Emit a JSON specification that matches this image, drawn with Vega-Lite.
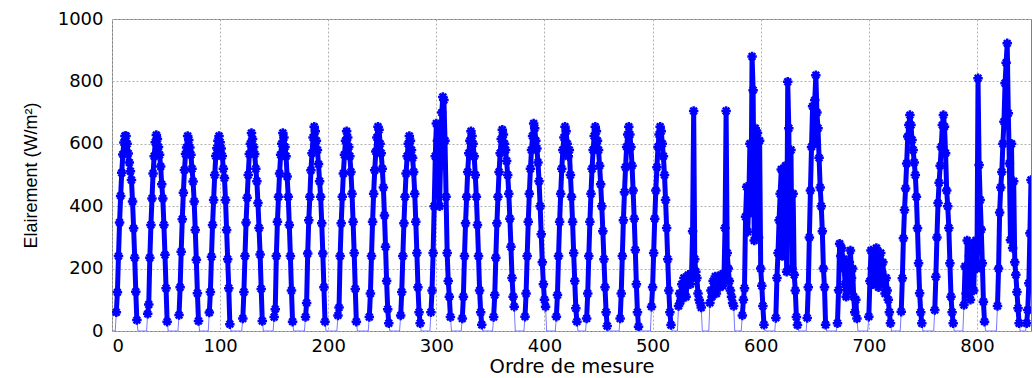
{
"$schema":"https://vega.github.io/schema/vega-lite/v6.json",
"width":919,"height":312,
"autosize":{"type":"none"},
"padding":{"left":112,"top":19,"right":2,"bottom":47},
"background":"white",
"config":{
"view":{"stroke":"#808080","strokeWidth":1},
"axis":{"domain":false,"ticks":false,"grid":true,"gridColor":"#b0b0b0","gridDash":[2,2],"gridWidth":1,
"labelFont":"DejaVu Sans","labelFontSize":18,"labelColor":"#000000","titleColor":"#000000","titleFontWeight":"normal"}
},
"data":{"values":[
{"x":1,"y":0,"d":0},{"x":3,"y":0,"d":0},{"x":24,"y":0,"d":0},{"x":32,"y":0,"d":0},{"x":52,"y":0,"d":0},{"x":61,"y":0,"d":0},{"x":81,"y":0,"d":0},{"x":89,"y":0,"d":0},{"x":110,"y":0,"d":0},{"x":120,"y":0,"d":0},{"x":140,"y":0,"d":0},{"x":149,"y":0,"d":0},{"x":168,"y":0,"d":0},{"x":178,"y":0,"d":0},{"x":198,"y":0,"d":0},{"x":208,"y":0,"d":0},{"x":227,"y":0,"d":0},{"x":237,"y":0,"d":0},{"x":257,"y":0,"d":0},{"x":266,"y":0,"d":0},{"x":286,"y":0,"d":0},{"x":294,"y":0,"d":0},{"x":314,"y":0,"d":0},{"x":323,"y":0,"d":0},{"x":343,"y":0,"d":0},{"x":352,"y":0,"d":0},{"x":373,"y":0,"d":0},{"x":381,"y":0,"d":0},{"x":402,"y":0,"d":0},{"x":410,"y":0,"d":0},{"x":431,"y":0,"d":0},{"x":438,"y":0,"d":0},{"x":459,"y":0,"d":0},{"x":469,"y":0,"d":0},{"x":488,"y":0,"d":0},{"x":498,"y":0,"d":0},{"x":518,"y":0,"d":0},{"x":523,"y":0,"d":0},{"x":546,"y":0,"d":0},{"x":552,"y":0,"d":0},{"x":576,"y":0,"d":0},{"x":582,"y":0,"d":0},{"x":604,"y":0,"d":0},{"x":613,"y":0,"d":0},{"x":635,"y":0,"d":0},{"x":642,"y":0,"d":0},{"x":661,"y":0,"d":0},{"x":670,"y":0,"d":0},{"x":690,"y":0,"d":0},{"x":699,"y":0,"d":0},{"x":721,"y":0,"d":0},{"x":729,"y":0,"d":0},{"x":750,"y":0,"d":0},{"x":760,"y":0,"d":0},{"x":779,"y":0,"d":0},{"x":787,"y":0,"d":0},{"x":808,"y":0,"d":0},{"x":818,"y":0,"d":0},{"x":840,"y":0,"d":0},{"x":845,"y":0,"d":0},
{"x":4,"y":60,"d":1},{"x":5,"y":124,"d":1},{"x":6,"y":240,"d":1},{"x":7,"y":348,"d":1},{"x":8,"y":433,"d":1},{"x":9,"y":507,"d":1},{"x":10,"y":566,"d":1},{"x":11,"y":604,"d":1},{"x":12,"y":625,"d":1},{"x":13,"y":625,"d":1},{"x":14,"y":600,"d":1},{"x":15,"y":569,"d":1},{"x":16,"y":540,"d":1},{"x":17,"y":512,"d":1},{"x":18,"y":484,"d":1},{"x":19,"y":415,"d":1},{"x":20,"y":329,"d":1},{"x":21,"y":235,"d":1},{"x":22,"y":126,"d":1},{"x":23,"y":35,"d":1},
{"x":33,"y":55,"d":2},{"x":34,"y":85,"d":2},{"x":35,"y":235,"d":2},{"x":36,"y":340,"d":2},{"x":37,"y":425,"d":2},{"x":38,"y":505,"d":2},{"x":39,"y":560,"d":2},{"x":40,"y":605,"d":2},{"x":41,"y":628,"d":2},{"x":42,"y":615,"d":2},{"x":43,"y":590,"d":2},{"x":44,"y":565,"d":2},{"x":45,"y":527,"d":2},{"x":46,"y":470,"d":2},{"x":47,"y":425,"d":2},{"x":48,"y":340,"d":2},{"x":49,"y":244,"d":2},{"x":50,"y":137,"d":2},{"x":51,"y":30,"d":2},
{"x":62,"y":51,"d":3},{"x":63,"y":140,"d":3},{"x":64,"y":254,"d":3},{"x":65,"y":358,"d":3},{"x":66,"y":443,"d":3},{"x":67,"y":516,"d":3},{"x":68,"y":567,"d":3},{"x":69,"y":588,"d":3},{"x":70,"y":625,"d":3},{"x":71,"y":612,"d":3},{"x":72,"y":588,"d":3},{"x":73,"y":565,"d":3},{"x":74,"y":520,"d":3},{"x":75,"y":479,"d":3},{"x":76,"y":415,"d":3},{"x":77,"y":324,"d":3},{"x":78,"y":228,"d":3},{"x":79,"y":121,"d":3},{"x":80,"y":32,"d":3},
{"x":90,"y":59,"d":4},{"x":91,"y":125,"d":4},{"x":92,"y":238,"d":4},{"x":93,"y":340,"d":4},{"x":94,"y":420,"d":4},{"x":95,"y":500,"d":4},{"x":96,"y":561,"d":4},{"x":97,"y":586,"d":4},{"x":98,"y":610,"d":4},{"x":99,"y":625,"d":4},{"x":100,"y":605,"d":4},{"x":101,"y":585,"d":4},{"x":102,"y":561,"d":4},{"x":103,"y":520,"d":4},{"x":104,"y":490,"d":4},{"x":105,"y":420,"d":4},{"x":106,"y":324,"d":4},{"x":107,"y":230,"d":4},{"x":108,"y":137,"d":4},{"x":109,"y":22,"d":4},
{"x":121,"y":40,"d":5},{"x":122,"y":125,"d":5},{"x":123,"y":240,"d":5},{"x":124,"y":348,"d":5},{"x":125,"y":427,"d":5},{"x":126,"y":500,"d":5},{"x":127,"y":567,"d":5},{"x":128,"y":600,"d":5},{"x":129,"y":635,"d":5},{"x":130,"y":615,"d":5},{"x":131,"y":590,"d":5},{"x":132,"y":567,"d":5},{"x":133,"y":520,"d":5},{"x":134,"y":480,"d":5},{"x":135,"y":410,"d":5},{"x":136,"y":330,"d":5},{"x":137,"y":245,"d":5},{"x":138,"y":135,"d":5},{"x":139,"y":32,"d":5},
{"x":150,"y":45,"d":6},{"x":151,"y":70,"d":6},{"x":152,"y":240,"d":6},{"x":153,"y":350,"d":6},{"x":154,"y":430,"d":6},{"x":155,"y":505,"d":6},{"x":156,"y":565,"d":6},{"x":157,"y":600,"d":6},{"x":158,"y":635,"d":6},{"x":159,"y":620,"d":6},{"x":160,"y":590,"d":6},{"x":161,"y":560,"d":6},{"x":162,"y":495,"d":6},{"x":163,"y":430,"d":6},{"x":164,"y":340,"d":6},{"x":165,"y":240,"d":6},{"x":166,"y":130,"d":6},{"x":167,"y":30,"d":6},
{"x":179,"y":45,"d":7},{"x":180,"y":90,"d":7},{"x":181,"y":248,"d":7},{"x":182,"y":355,"d":7},{"x":183,"y":430,"d":7},{"x":184,"y":515,"d":7},{"x":185,"y":570,"d":7},{"x":186,"y":620,"d":7},{"x":187,"y":655,"d":7},{"x":188,"y":640,"d":7},{"x":189,"y":610,"d":7},{"x":190,"y":580,"d":7},{"x":191,"y":535,"d":7},{"x":192,"y":480,"d":7},{"x":193,"y":430,"d":7},{"x":194,"y":345,"d":7},{"x":195,"y":248,"d":7},{"x":196,"y":140,"d":7},{"x":197,"y":30,"d":7},
{"x":209,"y":50,"d":8},{"x":210,"y":75,"d":8},{"x":211,"y":240,"d":8},{"x":212,"y":345,"d":8},{"x":213,"y":430,"d":8},{"x":214,"y":505,"d":8},{"x":215,"y":565,"d":8},{"x":216,"y":610,"d":8},{"x":217,"y":640,"d":8},{"x":218,"y":620,"d":8},{"x":219,"y":590,"d":8},{"x":220,"y":560,"d":8},{"x":221,"y":510,"d":8},{"x":222,"y":440,"d":8},{"x":223,"y":350,"d":8},{"x":224,"y":250,"d":8},{"x":225,"y":135,"d":8},{"x":226,"y":30,"d":8},
{"x":238,"y":45,"d":9},{"x":239,"y":120,"d":9},{"x":240,"y":240,"d":9},{"x":241,"y":350,"d":9},{"x":242,"y":440,"d":9},{"x":243,"y":515,"d":9},{"x":244,"y":575,"d":9},{"x":245,"y":620,"d":9},{"x":246,"y":655,"d":9},{"x":247,"y":645,"d":9},{"x":248,"y":600,"d":9},{"x":249,"y":570,"d":9},{"x":250,"y":520,"d":9},{"x":251,"y":460,"d":9},{"x":252,"y":370,"d":9},{"x":253,"y":270,"d":9},{"x":254,"y":160,"d":9},{"x":255,"y":70,"d":9},{"x":256,"y":25,"d":9},
{"x":267,"y":50,"d":10},{"x":268,"y":125,"d":10},{"x":269,"y":240,"d":10},{"x":270,"y":345,"d":10},{"x":271,"y":430,"d":10},{"x":272,"y":505,"d":10},{"x":273,"y":560,"d":10},{"x":274,"y":600,"d":10},{"x":275,"y":625,"d":10},{"x":276,"y":610,"d":10},{"x":277,"y":580,"d":10},{"x":278,"y":555,"d":10},{"x":279,"y":510,"d":10},{"x":280,"y":440,"d":10},{"x":281,"y":350,"d":10},{"x":282,"y":250,"d":10},{"x":283,"y":140,"d":10},{"x":284,"y":60,"d":10},{"x":285,"y":25,"d":10},
{"x":295,"y":60,"d":11},{"x":296,"y":130,"d":11},{"x":297,"y":250,"d":11},{"x":298,"y":400,"d":11},{"x":299,"y":560,"d":11},{"x":300,"y":665,"d":11},{"x":301,"y":610,"d":11},{"x":302,"y":520,"d":11},{"x":303,"y":400,"d":11},{"x":304,"y":560,"d":11},{"x":305,"y":700,"d":11},{"x":306,"y":750,"d":11},{"x":307,"y":740,"d":11},{"x":308,"y":610,"d":11},{"x":309,"y":430,"d":11},{"x":310,"y":250,"d":11},{"x":311,"y":160,"d":11},{"x":312,"y":110,"d":11},{"x":313,"y":45,"d":11},
{"x":324,"y":40,"d":12},{"x":325,"y":110,"d":12},{"x":326,"y":240,"d":12},{"x":327,"y":345,"d":12},{"x":328,"y":430,"d":12},{"x":329,"y":510,"d":12},{"x":330,"y":570,"d":12},{"x":331,"y":610,"d":12},{"x":332,"y":640,"d":12},{"x":333,"y":625,"d":12},{"x":334,"y":600,"d":12},{"x":335,"y":560,"d":12},{"x":336,"y":500,"d":12},{"x":337,"y":430,"d":12},{"x":338,"y":340,"d":12},{"x":339,"y":240,"d":12},{"x":340,"y":130,"d":12},{"x":341,"y":60,"d":12},{"x":342,"y":20,"d":12},
{"x":353,"y":45,"d":13},{"x":354,"y":115,"d":13},{"x":355,"y":235,"d":13},{"x":356,"y":345,"d":13},{"x":357,"y":430,"d":13},{"x":358,"y":510,"d":13},{"x":359,"y":570,"d":13},{"x":360,"y":615,"d":13},{"x":361,"y":645,"d":13},{"x":362,"y":630,"d":13},{"x":363,"y":600,"d":13},{"x":364,"y":580,"d":13},{"x":365,"y":545,"d":13},{"x":366,"y":500,"d":13},{"x":367,"y":440,"d":13},{"x":368,"y":360,"d":13},{"x":369,"y":270,"d":13},{"x":370,"y":170,"d":13},{"x":371,"y":110,"d":13},{"x":372,"y":78,"d":13},
{"x":382,"y":46,"d":14},{"x":383,"y":120,"d":14},{"x":384,"y":240,"d":14},{"x":385,"y":350,"d":14},{"x":386,"y":440,"d":14},{"x":387,"y":520,"d":14},{"x":388,"y":580,"d":14},{"x":389,"y":625,"d":14},{"x":390,"y":665,"d":14},{"x":391,"y":650,"d":14},{"x":392,"y":610,"d":14},{"x":393,"y":585,"d":14},{"x":394,"y":540,"d":14},{"x":395,"y":480,"d":14},{"x":396,"y":400,"d":14},{"x":397,"y":310,"d":14},{"x":398,"y":220,"d":14},{"x":399,"y":150,"d":14},{"x":400,"y":100,"d":14},{"x":401,"y":78,"d":14},
{"x":411,"y":46,"d":15},{"x":412,"y":115,"d":15},{"x":413,"y":240,"d":15},{"x":414,"y":350,"d":15},{"x":415,"y":440,"d":15},{"x":416,"y":520,"d":15},{"x":417,"y":580,"d":15},{"x":418,"y":620,"d":15},{"x":419,"y":655,"d":15},{"x":420,"y":640,"d":15},{"x":421,"y":600,"d":15},{"x":422,"y":560,"d":15},{"x":423,"y":580,"d":15},{"x":424,"y":500,"d":15},{"x":425,"y":430,"d":15},{"x":426,"y":350,"d":15},{"x":427,"y":250,"d":15},{"x":428,"y":160,"d":15},{"x":429,"y":73,"d":15},{"x":430,"y":30,"d":15},
{"x":439,"y":40,"d":16},{"x":440,"y":120,"d":16},{"x":441,"y":240,"d":16},{"x":442,"y":350,"d":16},{"x":443,"y":440,"d":16},{"x":444,"y":520,"d":16},{"x":445,"y":580,"d":16},{"x":446,"y":625,"d":16},{"x":447,"y":655,"d":16},{"x":448,"y":640,"d":16},{"x":449,"y":610,"d":16},{"x":450,"y":580,"d":16},{"x":451,"y":530,"d":16},{"x":452,"y":470,"d":16},{"x":453,"y":400,"d":16},{"x":454,"y":320,"d":16},{"x":455,"y":230,"d":16},{"x":456,"y":140,"d":16},{"x":457,"y":60,"d":16},{"x":458,"y":16,"d":16},
{"x":470,"y":40,"d":17},{"x":471,"y":120,"d":17},{"x":472,"y":240,"d":17},{"x":473,"y":355,"d":17},{"x":474,"y":445,"d":17},{"x":475,"y":525,"d":17},{"x":476,"y":590,"d":17},{"x":477,"y":630,"d":17},{"x":478,"y":655,"d":17},{"x":479,"y":630,"d":17},{"x":480,"y":590,"d":17},{"x":481,"y":530,"d":17},{"x":482,"y":450,"d":17},{"x":483,"y":360,"d":17},{"x":484,"y":260,"d":17},{"x":485,"y":150,"d":17},{"x":486,"y":60,"d":17},{"x":487,"y":14,"d":17},
{"x":499,"y":78,"d":18},{"x":500,"y":140,"d":18},{"x":501,"y":250,"d":18},{"x":502,"y":360,"d":18},{"x":503,"y":450,"d":18},{"x":504,"y":525,"d":18},{"x":505,"y":590,"d":18},{"x":506,"y":630,"d":18},{"x":507,"y":655,"d":18},{"x":508,"y":640,"d":18},{"x":509,"y":600,"d":18},{"x":510,"y":560,"d":18},{"x":511,"y":500,"d":18},{"x":512,"y":420,"d":18},{"x":513,"y":330,"d":18},{"x":514,"y":230,"d":18},{"x":515,"y":130,"d":18},{"x":516,"y":60,"d":18},{"x":517,"y":19,"d":18},
{"x":524,"y":80,"d":19},{"x":525,"y":120,"d":19},{"x":526,"y":95,"d":19},{"x":527,"y":150,"d":19},{"x":528,"y":125,"d":19},{"x":529,"y":170,"d":19},{"x":530,"y":140,"d":19},{"x":531,"y":110,"d":19},{"x":532,"y":160,"d":19},{"x":533,"y":180,"d":19},{"x":534,"y":165,"d":19},{"x":535,"y":150,"d":19},{"x":536,"y":175,"d":19},{"x":537,"y":320,"d":19},{"x":538,"y":705,"d":19},{"x":539,"y":230,"d":19},{"x":540,"y":190,"d":19},{"x":541,"y":170,"d":19},{"x":542,"y":120,"d":19},{"x":543,"y":100,"d":19},{"x":544,"y":90,"d":19},{"x":545,"y":75,"d":19},
{"x":553,"y":90,"d":20},{"x":554,"y":130,"d":20},{"x":555,"y":110,"d":20},{"x":556,"y":160,"d":20},{"x":557,"y":140,"d":20},{"x":558,"y":175,"d":20},{"x":559,"y":120,"d":20},{"x":560,"y":150,"d":20},{"x":561,"y":165,"d":20},{"x":562,"y":140,"d":20},{"x":563,"y":180,"d":20},{"x":564,"y":160,"d":20},{"x":565,"y":145,"d":20},{"x":566,"y":170,"d":20},{"x":567,"y":330,"d":20},{"x":568,"y":705,"d":20},{"x":569,"y":250,"d":20},{"x":570,"y":200,"d":20},{"x":571,"y":160,"d":20},{"x":572,"y":130,"d":20},{"x":573,"y":110,"d":20},{"x":574,"y":90,"d":20},{"x":575,"y":80,"d":20},
{"x":583,"y":50,"d":21},{"x":584,"y":100,"d":21},{"x":585,"y":137,"d":21},{"x":586,"y":366,"d":21},{"x":587,"y":462,"d":21},{"x":588,"y":318,"d":21},{"x":589,"y":420,"d":21},{"x":590,"y":600,"d":21},{"x":591,"y":380,"d":21},{"x":592,"y":880,"d":21},{"x":593,"y":772,"d":21},{"x":594,"y":290,"d":21},{"x":595,"y":650,"d":21},{"x":596,"y":520,"d":21},{"x":597,"y":635,"d":21},{"x":598,"y":300,"d":21},{"x":599,"y":610,"d":21},{"x":600,"y":200,"d":21},{"x":601,"y":145,"d":21},{"x":602,"y":80,"d":21},{"x":603,"y":20,"d":21},
{"x":614,"y":42,"d":22},{"x":615,"y":170,"d":22},{"x":616,"y":250,"d":22},{"x":617,"y":355,"d":22},{"x":618,"y":440,"d":22},{"x":619,"y":518,"d":22},{"x":620,"y":240,"d":22},{"x":621,"y":520,"d":22},{"x":622,"y":300,"d":22},{"x":623,"y":530,"d":22},{"x":624,"y":190,"d":22},{"x":625,"y":799,"d":22},{"x":626,"y":650,"d":22},{"x":627,"y":300,"d":22},{"x":628,"y":580,"d":22},{"x":629,"y":200,"d":22},{"x":630,"y":440,"d":22},{"x":631,"y":180,"d":22},{"x":632,"y":130,"d":22},{"x":633,"y":45,"d":22},{"x":634,"y":19,"d":22},
{"x":643,"y":42,"d":23},{"x":644,"y":140,"d":23},{"x":645,"y":300,"d":23},{"x":646,"y":450,"d":23},{"x":647,"y":590,"d":23},{"x":648,"y":720,"d":23},{"x":649,"y":600,"d":23},{"x":650,"y":740,"d":23},{"x":651,"y":820,"d":23},{"x":652,"y":700,"d":23},{"x":653,"y":650,"d":23},{"x":654,"y":555,"d":23},{"x":655,"y":460,"d":23},{"x":656,"y":400,"d":23},{"x":657,"y":320,"d":23},{"x":658,"y":200,"d":23},{"x":659,"y":140,"d":23},{"x":660,"y":20,"d":23},
{"x":671,"y":25,"d":24},{"x":672,"y":131,"d":24},{"x":673,"y":280,"d":24},{"x":674,"y":240,"d":24},{"x":675,"y":265,"d":24},{"x":676,"y":200,"d":24},{"x":677,"y":230,"d":24},{"x":678,"y":150,"d":24},{"x":679,"y":110,"d":24},{"x":680,"y":180,"d":24},{"x":681,"y":130,"d":24},{"x":682,"y":220,"d":24},{"x":683,"y":258,"d":24},{"x":684,"y":170,"d":24},{"x":685,"y":200,"d":24},{"x":686,"y":110,"d":24},{"x":687,"y":60,"d":24},{"x":688,"y":100,"d":24},{"x":689,"y":40,"d":24},
{"x":700,"y":46,"d":25},{"x":701,"y":160,"d":25},{"x":702,"y":258,"d":25},{"x":703,"y":200,"d":25},{"x":704,"y":150,"d":25},{"x":705,"y":240,"d":25},{"x":706,"y":180,"d":25},{"x":707,"y":266,"d":25},{"x":708,"y":210,"d":25},{"x":709,"y":140,"d":25},{"x":710,"y":230,"d":25},{"x":711,"y":250,"d":25},{"x":712,"y":190,"d":25},{"x":713,"y":220,"d":25},{"x":714,"y":160,"d":25},{"x":715,"y":120,"d":25},{"x":716,"y":170,"d":25},{"x":717,"y":130,"d":25},{"x":718,"y":100,"d":25},{"x":719,"y":60,"d":25},{"x":720,"y":25,"d":25},
{"x":730,"y":62,"d":26},{"x":731,"y":169,"d":26},{"x":732,"y":297,"d":26},{"x":733,"y":388,"d":26},{"x":734,"y":457,"d":26},{"x":735,"y":537,"d":26},{"x":736,"y":623,"d":26},{"x":737,"y":660,"d":26},{"x":738,"y":692,"d":26},{"x":739,"y":660,"d":26},{"x":740,"y":612,"d":26},{"x":741,"y":580,"d":26},{"x":742,"y":540,"d":26},{"x":743,"y":500,"d":26},{"x":744,"y":430,"d":26},{"x":745,"y":329,"d":26},{"x":746,"y":217,"d":26},{"x":747,"y":121,"d":26},{"x":748,"y":60,"d":26},{"x":749,"y":25,"d":26},
{"x":761,"y":67,"d":27},{"x":762,"y":174,"d":27},{"x":763,"y":300,"d":27},{"x":764,"y":410,"d":27},{"x":765,"y":475,"d":27},{"x":766,"y":530,"d":27},{"x":767,"y":590,"d":27},{"x":768,"y":660,"d":27},{"x":769,"y":692,"d":27},{"x":770,"y":655,"d":27},{"x":771,"y":570,"d":27},{"x":772,"y":450,"d":27},{"x":773,"y":400,"d":27},{"x":774,"y":330,"d":27},{"x":775,"y":217,"d":27},{"x":776,"y":110,"d":27},{"x":777,"y":60,"d":27},{"x":778,"y":25,"d":27},
{"x":788,"y":83,"d":28},{"x":789,"y":207,"d":28},{"x":790,"y":120,"d":28},{"x":791,"y":290,"d":28},{"x":792,"y":150,"d":28},{"x":793,"y":240,"d":28},{"x":794,"y":100,"d":28},{"x":795,"y":210,"d":28},{"x":796,"y":280,"d":28},{"x":797,"y":130,"d":28},{"x":798,"y":250,"d":28},{"x":799,"y":290,"d":28},{"x":800,"y":200,"d":28},{"x":801,"y":810,"d":28},{"x":802,"y":532,"d":28},{"x":803,"y":420,"d":28},{"x":804,"y":325,"d":28},{"x":805,"y":217,"d":28},{"x":806,"y":94,"d":28},{"x":807,"y":30,"d":28},
{"x":819,"y":80,"d":29},{"x":820,"y":200,"d":29},{"x":821,"y":380,"d":29},{"x":822,"y":460,"d":29},{"x":823,"y":510,"d":29},{"x":824,"y":600,"d":29},{"x":825,"y":671,"d":29},{"x":826,"y":794,"d":29},{"x":827,"y":860,"d":29},{"x":828,"y":922,"d":29},{"x":829,"y":698,"d":29},{"x":830,"y":537,"d":29},{"x":831,"y":292,"d":29},{"x":832,"y":600,"d":29},{"x":833,"y":266,"d":29},{"x":834,"y":480,"d":29},{"x":835,"y":220,"d":29},{"x":836,"y":180,"d":29},{"x":837,"y":125,"d":29},{"x":838,"y":73,"d":29},{"x":839,"y":25,"d":29},
{"x":846,"y":25,"d":30},{"x":847,"y":67,"d":30},{"x":848,"y":153,"d":30},{"x":849,"y":313,"d":30},{"x":850,"y":484,"d":30}
]},
"encoding":{
"x":{"field":"x","type":"quantitative","scale":{"domain":[0,850],"nice":false,"zero":false},
"axis":{"values":[0,100,200,300,400,500,600,700,800],"format":"d","title":"Ordre de mesure","titleFont":"DejaVu Sans","titleFontSize":19.5,"labelPadding":6,"titlePadding":2}},
"y":{"field":"y","type":"quantitative","scale":{"domain":[0,1000],"nice":false},
"axis":{"values":[0,200,400,600,800,1000],"format":"d","title":"Elairement (W/m²)","titleFont":"Liberation Sans","titleFontSize":18,"labelPadding":9,"titlePadding":17}}
},
"layer":[
{"mark":{"type":"line","color":"#5555ff","strokeWidth":0.8,"clip":true}},
{"transform":[{"filter":"datum.d > 0"}],"mark":{"type":"line","color":"#0000ff","strokeWidth":5,"strokeJoin":"round","clip":true},"encoding":{"detail":{"field":"d"}}},
{"transform":[{"filter":"datum.d > 0"}],"mark":{"type":"point","shape":"M-1,0H1M0,-1V1M-0.7,-0.7L0.7,0.7M-0.7,0.7L0.7,-0.7","size":90,"filled":false,"color":"#0000ff","strokeWidth":2.5,"opacity":1,"clip":true}}
]
}
